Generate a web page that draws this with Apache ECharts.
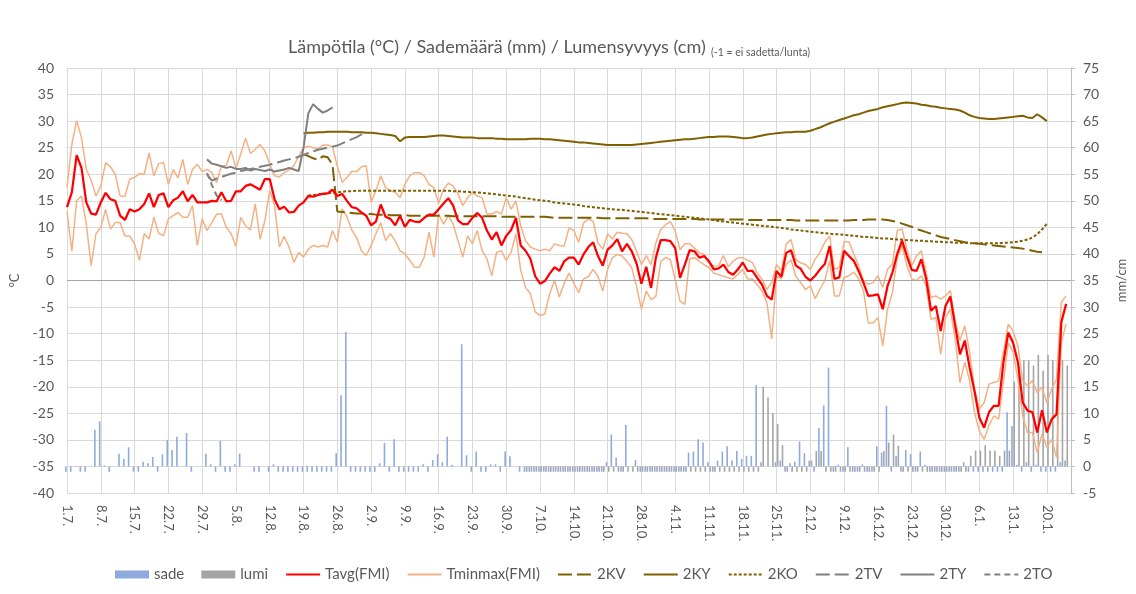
<!DOCTYPE html>
<html>
<head>
<meta charset="utf-8">
<title>Lämpötila / Sademäärä / Lumensyvyys</title>
<script src="https://cdn.jsdelivr.net/npm/echarts/dist/echarts.min.js"></script>
<style>
html, body { margin: 0; padding: 0; background: #fff; }
#chart { width: 1136px; height: 594px; }
</style>
</head>
<body>
<div id="chart"></div>
<script>
// päivät 1.7. - 26.1. (209 kpl), akselin tekstit joka 7. päivä
var dayCount = 209;

// FMI lämpötilat, päivä kerrallaan alkaen 1.7.
var tavg = [
	13.8, 16.6, 23.6, 21.2, 14.7, 12.6, 12.4, 14.7, 16.5, 15.3,
	15.0, 12.2, 11.4, 13.4, 13.0, 13.4, 14.4, 16.4, 13.8, 16.1,
	16.4, 13.8, 15.1, 15.6, 16.8, 14.9, 16.1, 14.7, 14.7, 14.7,
	15.0, 14.9, 16.6, 14.9, 15.0, 16.8, 16.8, 17.8, 18.1, 17.6,
	17.1, 19.1, 19.1, 15.3, 13.4, 13.9, 12.8, 12.9, 14.1, 14.7,
	15.9, 15.8, 16.1, 16.3, 16.4, 17.1, 15.9, 16.3, 15.0, 13.8,
	13.6, 12.8, 12.2, 10.4, 11.1, 14.3, 12.0, 11.6, 10.4, 12.2,
	10.1, 11.4, 11.1, 11.0, 11.8, 12.4, 12.4, 13.4, 14.5, 15.5,
	14.1, 11.3, 10.6, 10.6, 11.8, 12.7, 11.8, 9.4, 7.7, 9.1,
	6.6, 8.4, 9.5, 11.8, 6.6, 5.6, 4.1, 0.8, -0.6, -0.1,
	1.3, 2.5, 1.8, 3.6, 4.3, 4.3, 3.0, 4.9, 6.3, 7.2,
	4.6, 2.8, 5.8, 6.6, 7.8, 5.5, 6.9, 5.5, 3.2, -0.6,
	2.6, -1.4, 4.3, 7.6, 7.6, 7.4, 6.1, 0.5, 3.0, 5.7,
	5.5, 4.3, 4.6, 3.6, 2.1, 2.3, 3.0, 1.6, 1.1, 2.1,
	3.4, 1.8, 1.8, 0.5, -0.8, -2.9, -3.6, 1.8, 0.7, 5.2,
	5.7, 2.8, 2.2, 0.7, 0.0, 0.9, 2.1, 3.1, 6.5, 0.3,
	0.6, 5.6, 4.6, 3.7, 1.8, -0.4, -2.9, -2.8, -2.6, -5.4,
	-1.0, 1.5, 5.0, 7.5, 4.6, 2.0, 1.8, 4.0, 0.3, -5.7,
	-4.8, -9.5, -4.8, -3.0, -8.5, -13.9, -11.3, -16.4, -20.8, -25.8,
	-27.7, -24.8, -23.6, -23.6, -15.4, -9.8, -11.7, -15.4, -23.0, -24.5,
	-24.8, -28.6, -24.4, -28.6, -26.1, -25.2, -7.8, -4.4
];

var tmax = [
	17.5, 25.6, 30.1, 26.9, 20.9, 18.9, 15.9, 17.8, 22.2, 21.4,
	20.0, 15.9, 15.8, 19.1, 19.4, 20.1, 20.0, 24.0, 19.7, 22.0,
	22.2, 18.1, 20.9, 19.3, 22.8, 18.1, 20.9, 21.9, 20.5, 20.9,
	20.3, 18.4, 21.6, 21.6, 24.4, 21.1, 23.8, 26.8, 23.9, 24.7,
	25.6, 24.4, 21.9, 19.7, 19.5, 20.3, 20.8, 21.6, 23.4, 25.0,
	25.3, 25.0, 24.8, 25.5, 25.5, 25.2, 21.5, 18.5, 19.4, 20.5,
	20.5, 21.4, 21.6, 14.7, 16.9, 19.7, 17.5, 16.9, 16.6, 15.6,
	18.1, 19.7, 20.3, 20.3, 19.7, 18.1, 17.5, 14.5, 17.2, 18.3,
	17.8, 16.3, 14.1, 15.6, 16.6, 15.9, 15.6, 12.5, 12.5, 13.0,
	12.5, 15.6, 13.4, 15.0, 10.3, 7.5, 6.3, 5.9, 5.6, 5.9,
	5.6, 6.9, 6.6, 6.5, 9.9, 9.4, 7.2, 10.8, 11.6, 11.1,
	7.1, 5.9, 8.8, 7.8, 9.1, 8.9, 8.8, 7.7, 5.5, 3.0,
	4.7, 3.0, 7.1, 9.6, 10.5, 11.1, 9.3, 5.8, 6.9, 6.9,
	6.1, 5.2, 4.9, 3.4, 2.7, 2.8, 4.7, 2.6, 3.6, 4.3,
	4.3, 3.8, 3.4, 1.4, 0.2, -1.7, -0.4, 3.0, 1.8, 6.9,
	7.7, 3.9, 3.3, 3.0, 2.1, 4.0, 5.3, 7.2, 8.4, 2.1,
	2.5, 7.3, 7.3, 5.0, 2.8, 0.0, -0.7, -0.4, 0.9, -1.3,
	2.1, 3.1, 9.4, 9.7, 5.9, 2.8, 4.6, 5.6, 1.5, -3.2,
	-2.9, -3.5, -2.9, -1.9, -7.6, -11.3, -8.5, -13.5, -20.4, -24.2,
	-23.0, -19.5, -19.2, -18.9, -13.5, -8.2, -9.5, -12.3, -18.9, -19.8,
	-18.9, -21.1, -20.1, -23.0, -20.4, -18.6, -4.1, -2.9
];

var tmin = [
	13.0, 5.5, 15.0, 15.9, 10.6, 2.8, 8.8, 10.0, 13.4, 9.7,
	10.9, 10.9, 8.4, 8.4, 6.9, 3.8, 8.8, 7.8, 11.9, 8.9,
	8.4, 11.6, 12.2, 12.8, 11.9, 11.9, 14.1, 6.6, 11.6, 9.4,
	10.9, 12.5, 12.5, 10.0, 8.8, 6.4, 11.9, 10.3, 9.5, 14.4,
	7.8, 11.3, 16.9, 14.1, 6.3, 8.3, 6.3, 3.4, 5.3, 4.4,
	5.9, 6.6, 6.3, 6.6, 6.3, 9.4, 7.2, 13.5, 12.0, 9.5,
	8.1, 5.6, 4.7, 6.6, 8.8, 10.9, 7.5, 8.8, 7.5, 5.6,
	5.0, 3.8, 2.5, 2.5, 4.4, 9.1, 4.4, 12.5, 10.6, 12.2,
	10.6, 7.5, 4.4, 8.4, 6.9, 9.4, 5.6, 4.1, 0.9, 5.3,
	5.6, 3.8, 5.3, 8.8, 1.9, -1.3, -2.5, -5.9, -6.6, -6.3,
	-2.5, 0.0, -3.1, -0.5, 1.4, -0.5, -2.3, 0.3, 0.7, 2.1,
	0.8, -2.0, 2.1, 4.3, 4.9, 4.6, 3.6, 2.4, -1.1, -5.4,
	-2.0, -3.6, -3.0, 3.6, 4.3, 3.9, 0.2, -3.9, -4.5, 4.1,
	4.3, 3.6, 3.0, 2.4, 1.4, 1.1, 0.8, 0.5, 0.3, 1.2,
	2.1, 0.3, 0.3, -0.8, -2.0, -4.2, -11.0, 0.8, 0.3, 3.0,
	3.9, 0.8, -0.4, -1.7, -1.0, -3.4, -1.6, 0.0, 3.7, -2.9,
	-2.9, 0.6, 0.9, 1.6, 0.3, -1.9, -8.0, -8.0, -7.0, -12.3,
	-5.4, -2.3, 4.3, 6.5, 2.8, 0.3, 0.0, 0.9, -1.0, -7.3,
	-7.0, -13.9, -7.0, -5.4, -11.0, -19.2, -15.4, -18.9, -24.8, -28.3,
	-29.9, -27.3, -25.5, -26.1, -19.2, -11.7, -13.5, -18.6, -25.5, -28.6,
	-28.6, -32.4, -28.9, -31.4, -29.9, -33.3, -11.5, -8.2
];

// sademäärä mm (-1 = ei sadetta)
var sade = [
	-1, -1, 0.1, -1, -1, 0, 6.9, 8.5, 0.2, -1,
	0, 2.4, 1.4, 3.6, -1, -1, 0.9, 0.6, 1.8, -1,
	2.3, 5.0, 3.1, 5.6, 0, 6.3, -1, 0, 0, 2.4,
	0.4, -1, 4.8, -1, -1, 0.4, 2.4, 0, 0, -1,
	-1, 0, -1, 0.4, -1, -1, -1, -1, -1, -1,
	-1, -1, -1, -1, -1, -1, 2.5, 13.4, 25.3, -1,
	-1, -1, -1, -1, -1, 0.6, 4.4, -1, 5.1, -1,
	-1, -1, -1, -1, 0.4, -1, 1.2, 2.3, 0.8, 5.6,
	0.3, 0, 23.0, 2.1, -1, 2.8, -1, -1, 0.4, 0.4,
	-1, 2.8, 1.9, 0, -1, -1, -1, -1, -1, -1,
	-1, -1, -1, -1, -1, -1, -1, -1, -1, -1,
	-1, -1, 0.8, 6.0, 1.7, -1, 7.8, 0, 1.2, -1,
	-1, -1, -1, -1, -1, -1, -1, -1, -1, 2.6,
	2.8, 5.1, 4.5, 0.8, -1, 1.1, 2.8, 3.8, 1.1, 2.9,
	1.4, 2.0, 2.0, 15.3, 0.8, 0, 0, 0.8, 1.1, -1,
	0.6, 0.9, 4.7, 2.5, 1.1, -1, 7.2, 11.5, 18.6, -1,
	0.3, -1, 3.6, -1, -1, 0.4, -1, -1, 3.8, 2.6,
	11.4, -1, 2.0, -1, 3.1, 2.3, -1, 2.8, 0.3, -1,
	-1, -1, -1, -1, -1, -1, 0.8, -1, -1, -1,
	-1, -1, -1, -1, -1, 10.2, 7.6, 0.3, -1, 0.8,
	-1, 0.3, -1, -1, -1, -1, 0.8, 1.1
];

// lumensyvyys cm, mitattu 4.10. alkaen (-1 = ei lunta)
var lumiStart = 95;
var lumi = [
	-1, -1, -1, -1, -1, -1, -1, -1, -1, -1,
	-1, -1, -1, -1, -1, -1, -1, -1, -1, -1,
	-1, -1, -1, -1, -1, -1, -1, -1, -1, -1,
	-1, -1, -1, -1, -1, -1, -1, -1, -1, -1,
	-1, -1, -1, -1, -1, -1, -1, -1, -1,
	15, 13, 10, 8, 4,
	-1, -1, -1, -1, -1,
	1.1, 2.9, 2.9,
	-1, -1, -1, -1, -1, -1, -1, -1, -1, -1, -1, -1,
	2.9, 4.5, 6, 3.9,
	-1, -1, -1, -1, -1, -1, -1, -1, -1, -1, -1, -1, -1, -1,
	2, 3, 3, 4, 3, 3, 2, 3, 3,
	16, 19, 20, 20, 19, 21, 18, 21, 20, 20, 20, 19
];

// anturit
var kvStart = 49;
var kv2 = [
	23.8, 23.4, 23.0, 22.7, 23.4, 23.2, 21.8, 13.0, 12.9, 12.8,
	12.7, 12.6, 12.6, 12.5, 12.5, 12.4, 12.4, 12.4, 12.3, 12.3,
	12.3, 12.3, 12.2, 12.2, 12.2, 12.2, 12.2, 12.2, 12.2, 12.2,
	12.2, 12.1, 12.1, 12.1, 12.1, 12.1, 12.1, 12.1, 12.1, 12.1,
	12.1, 12.0, 12.0, 12.0, 12.0, 12.0, 12.0, 12.0, 12.0, 12.0,
	12.0, 11.9, 11.8, 11.8, 11.8, 11.8, 11.8, 11.8, 11.8, 11.8,
	11.8, 11.8, 11.7, 11.7, 11.7, 11.7, 11.7, 11.7, 11.7, 11.7,
	11.7, 11.7, 11.6, 11.6, 11.6, 11.6, 11.6, 11.6, 11.6, 11.6,
	11.6, 11.6, 11.5, 11.5, 11.5, 11.5, 11.5, 11.5, 11.5, 11.5,
	11.5, 11.5, 11.4, 11.4, 11.4, 11.4, 11.4, 11.4, 11.4, 11.4,
	11.4, 11.4, 11.3, 11.3, 11.3, 11.3, 11.3, 11.3, 11.3, 11.3,
	11.3, 11.3, 11.3, 11.3, 11.4, 11.4, 11.4, 11.5, 11.5, 11.5,
	11.5, 11.4, 11.2, 11.0, 10.7, 10.4, 10.1, 9.7, 9.4, 9.1,
	8.8, 8.5, 8.2, 8.0, 7.8, 7.6, 7.4, 7.2, 7.1, 7.0,
	6.9, 6.8, 6.7, 6.6, 6.5, 6.4, 6.3, 6.2, 6.1, 6.0,
	5.8, 5.6, 5.4, 5.3
];

var kyStart = 49;
var ky2 = [
	27.7, 27.8, 27.8, 27.9, 27.9, 28.0, 28.0, 28.0, 28.0, 28.0,
	27.9, 27.9, 27.9, 27.8, 27.8, 27.7, 27.6, 27.5, 27.4, 27.2,
	26.2, 26.9, 27.0, 27.0, 27.0, 27.0, 27.1, 27.2, 27.3, 27.3,
	27.2, 27.1, 27.0, 26.9, 26.9, 26.9, 26.8, 26.8, 26.8, 26.8,
	26.7, 26.7, 26.6, 26.6, 26.6, 26.6, 26.6, 26.7, 26.7, 26.7,
	26.6, 26.6, 26.5, 26.4, 26.3, 26.2, 26.1, 26.0, 26.0, 25.9,
	25.8, 25.7, 25.6, 25.5, 25.5, 25.5, 25.5, 25.5, 25.5, 25.6,
	25.7, 25.8, 25.9, 26.0, 26.1, 26.2, 26.3, 26.4, 26.5, 26.6,
	26.6, 26.7, 26.8, 26.9, 27.0, 27.0, 27.1, 27.1, 27.1, 27.0,
	26.9, 26.8, 26.8, 26.9, 27.1, 27.3, 27.5, 27.6, 27.7, 27.8,
	27.9, 27.9, 28.0, 28.0, 28.0, 28.2, 28.5, 28.8, 29.2, 29.6,
	29.9, 30.2, 30.5, 30.8, 31.1, 31.3, 31.6, 31.9, 32.1, 32.3,
	32.6, 32.8, 33.0, 33.2, 33.4, 33.5, 33.4, 33.3, 33.1, 33.0,
	32.8, 32.7, 32.5, 32.4, 32.3, 32.2, 32.0, 31.6, 31.1, 30.8,
	30.6, 30.5, 30.4, 30.4, 30.5, 30.6, 30.7, 30.8, 30.9, 31.0,
	30.7, 30.6, 31.3, 30.7, 30.0
];

var koStart = 50;
var ko2 = [
	16.0, 16.1, 16.2, 16.3, 16.4, 16.5, 16.6, 16.7, 16.8, 16.8,
	16.9, 16.9, 16.9, 16.9, 16.9, 16.9, 16.9, 16.9, 16.9, 16.9,
	16.9, 16.9, 16.9, 16.9, 16.9, 16.9, 16.9, 16.9, 16.9, 16.9,
	16.8, 16.8, 16.7, 16.7, 16.6, 16.6, 16.5, 16.4, 16.3, 16.2,
	16.1, 16.0, 15.9, 15.8, 15.6, 15.5, 15.4, 15.2, 15.1, 15.0,
	14.9, 14.7, 14.6, 14.5, 14.4, 14.3, 14.2, 14.0, 13.9, 13.8,
	13.7, 13.6, 13.5, 13.4, 13.3, 13.3, 13.2, 13.1, 13.0, 12.9,
	12.8, 12.7, 12.6, 12.5, 12.4, 12.3, 12.2, 12.1, 12.0, 11.9,
	11.8, 11.7, 11.6, 11.5, 11.4, 11.2, 11.1, 11.0, 10.9, 10.8,
	10.7, 10.6, 10.5, 10.4, 10.3, 10.2, 10.1, 10.0, 9.9, 9.8,
	9.6, 9.5, 9.4, 9.3, 9.2, 9.1, 9.0, 8.9, 8.8, 8.7,
	8.7, 8.6, 8.5, 8.4, 8.3, 8.2, 8.2, 8.1, 8.0, 7.9,
	7.9, 7.8, 7.7, 7.7, 7.6, 7.6, 7.5, 7.5, 7.4, 7.4,
	7.3, 7.3, 7.2, 7.2, 7.1, 7.1, 7.1, 7.0, 7.0, 7.0,
	7.0, 7.0, 7.0, 7.0, 7.1, 7.1, 7.2, 7.3, 7.5, 7.7,
	8.1, 8.7, 9.6, 10.7
];

var tvStart = 29;
var tv2 = [
	20.0, 18.8, 19.2, 19.5, 19.8, 20.1, 20.3, 20.6, 20.8, 21.0,
	21.2, 21.4, 21.6, 21.8, 22.1, 22.3, 22.6, 22.8, 23.0, 23.3,
	23.6, 24.0, 24.3, 24.6, 24.8, 25.0, 25.2, 25.4, 25.8, 26.2,
	26.6, 27.0, 27.5, 27.9
];

var tyStart = 29;
var ty2 = [
	22.8, 22.0, 21.8, 21.5, 21.2, 21.4, 21.0, 21.0, 21.2, 20.7,
	21.0, 20.8, 20.6, 20.9, 20.5, 20.7, 20.9, 21.2, 20.9, 20.6,
	25.0, 31.5, 33.2, 32.3, 31.6, 32.0, 32.6
];

var toStart = 29;
var to2 = [20.2, 18.0, 16.0, 15.1];

// x-akselin päivämäärät
var days = [];
var d = new Date(2019, 6, 1);
for (var i = 0; i < dayCount; i++) {
	days.push(d.getDate() + '.' + (d.getMonth() + 1) + '.');
	d.setDate(d.getDate() + 1);
}

function pad(start, vals) {
	var out = [];
	for (var i = 0; i < start; i++) {
		out.push(null);
	}
	return out.concat(vals);
}

function weekly(index) {
	return index % 7 === 0;
}

// legendan viivoille ei pistettä
function lineItem(name) {
	return { name: name, itemStyle: { opacity: 0 } };
}

var textColor = '#595959';
var fontName = '"Liberation Sans Narrow", Lato, sans-serif';
var olive = '#7f6000';
var grey = '#808080';

var myChart = echarts.init(document.getElementById('chart'));

var option = {
	animation: false,
	textStyle: {
		fontFamily: fontName
	},
	title: [{
		text: 'Lämpötila (°C) / Sademäärä (mm) / Lumensyvyys (cm)',
		left: 283,
		top: 33,
		textStyle: {
			color: textColor,
			fontSize: 18,
			fontWeight: 'normal',
			fontFamily: fontName
		}
	}, {
		text: '(-1 = ei sadetta/lunta)',
		left: 706,
		top: 42,
		textStyle: {
			color: textColor,
			fontSize: 10.5,
			fontWeight: 'normal',
			fontFamily: fontName
		}
	}],
	legend: {
		bottom: 7,
		left: 110,
		itemGap: 17,
		itemWidth: 34,
		itemHeight: 8,
		textStyle: {
			color: textColor,
			fontSize: 15,
			fontFamily: fontName
		},
		data: [
			{ name: 'sade', icon: 'rect' },
			{ name: 'lumi', icon: 'rect' },
			lineItem('Tavg(FMI)'), lineItem('Tminmax(FMI)'),
			lineItem('2KV'), lineItem('2KY'), lineItem('2KO'),
			lineItem('2TV'), lineItem('2TY'), lineItem('2TO')
		]
	},
	grid: {
		left: 67,
		right: 59,
		top: 68,
		bottom: 101
	},
	xAxis: {
		type: 'category',
		data: days,
		boundaryGap: false,
		axisLine: { show: false },
		axisTick: { show: false },
		axisLabel: {
			interval: weekly,
			rotate: -90,
			color: textColor,
			fontSize: 13,
			margin: 12
		},
		splitLine: {
			show: true,
			interval: weekly,
			lineStyle: { color: '#d9d9d9' }
		}
	},
	yAxis: [{
		type: 'value',
		min: -40,
		max: 40,
		interval: 5,
		name: '°C',
		nameLocation: 'middle',
		nameRotate: 90,
		nameGap: 44,
		nameTextStyle: { color: textColor, fontSize: 13 },
		axisLine: { show: false },
		axisTick: { show: false },
		axisLabel: { color: textColor, fontSize: 14, margin: 13 },
		splitLine: { lineStyle: { color: '#d9d9d9' } }
	}, {
		type: 'value',
		min: -5,
		max: 75,
		interval: 5,
		position: 'right',
		name: 'mm/cm',
		nameLocation: 'middle',
		nameRotate: 90,
		nameGap: 44,
		nameTextStyle: { color: textColor, fontSize: 13 },
		axisLine: { show: true, lineStyle: { color: '#bfbfbf' } },
		axisTick: { show: true, length: 4, lineStyle: { color: '#bfbfbf' } },
		axisLabel: { color: textColor, fontSize: 14, margin: 12 },
		splitLine: { show: false }
	}],
	series: [{
		name: 'sade',
		type: 'bar',
		yAxisIndex: 1,
		data: sade,
		barWidth: 1.6,
		barGap: '40%',
		itemStyle: { color: '#8faadc' },
		markLine: {
			silent: true,
			symbol: 'none',
			label: { show: false },
			lineStyle: { color: '#a6a6a6', type: 'solid', width: 1 },
			data: [{ yAxis: 35 }]
		}
	}, {
		name: 'lumi',
		type: 'bar',
		yAxisIndex: 1,
		data: pad(lumiStart, lumi),
		barWidth: 1.6,
		barGap: '40%',
		itemStyle: { color: '#a5a5a5' }
	}, {
		name: 'Tminmax(FMI)',
		type: 'line',
		data: tmax,
		symbol: 'none',
		z: 3,
		lineStyle: { color: '#f4b183', width: 1.5 },
		itemStyle: { color: '#f4b183' }
	}, {
		name: 'Tminmax(FMI)',
		type: 'line',
		data: tmin,
		symbol: 'none',
		z: 3,
		lineStyle: { color: '#f4b183', width: 1.5 },
		itemStyle: { color: '#f4b183' }
	}, {
		name: 'Tavg(FMI)',
		type: 'line',
		data: tavg,
		symbol: 'none',
		z: 5,
		lineStyle: { color: '#ff0000', width: 2.25 },
		itemStyle: { color: '#ff0000' }
	}, {
		name: '2KV',
		type: 'line',
		data: pad(kvStart, kv2),
		symbol: 'none',
		z: 4,
		lineStyle: { color: olive, width: 2, type: [14, 5] },
		itemStyle: { color: olive }
	}, {
		name: '2KY',
		type: 'line',
		data: pad(kyStart, ky2),
		symbol: 'none',
		z: 4,
		lineStyle: { color: olive, width: 2 },
		itemStyle: { color: olive }
	}, {
		name: '2KO',
		type: 'line',
		data: pad(koStart, ko2),
		symbol: 'none',
		z: 4,
		lineStyle: { color: olive, width: 2, type: [3, 2] },
		itemStyle: { color: olive }
	}, {
		name: '2TV',
		type: 'line',
		data: pad(tvStart, tv2),
		symbol: 'none',
		z: 4,
		lineStyle: { color: grey, width: 2, type: [14, 5] },
		itemStyle: { color: grey }
	}, {
		name: '2TY',
		type: 'line',
		data: pad(tyStart, ty2),
		symbol: 'none',
		z: 4,
		lineStyle: { color: grey, width: 2 },
		itemStyle: { color: grey }
	}, {
		name: '2TO',
		type: 'line',
		data: pad(toStart, to2),
		symbol: 'none',
		z: 4,
		lineStyle: { color: grey, width: 2, type: [6, 4] },
		itemStyle: { color: grey }
	}]
};

myChart.setOption(option);
</script>
</body>
</html>
